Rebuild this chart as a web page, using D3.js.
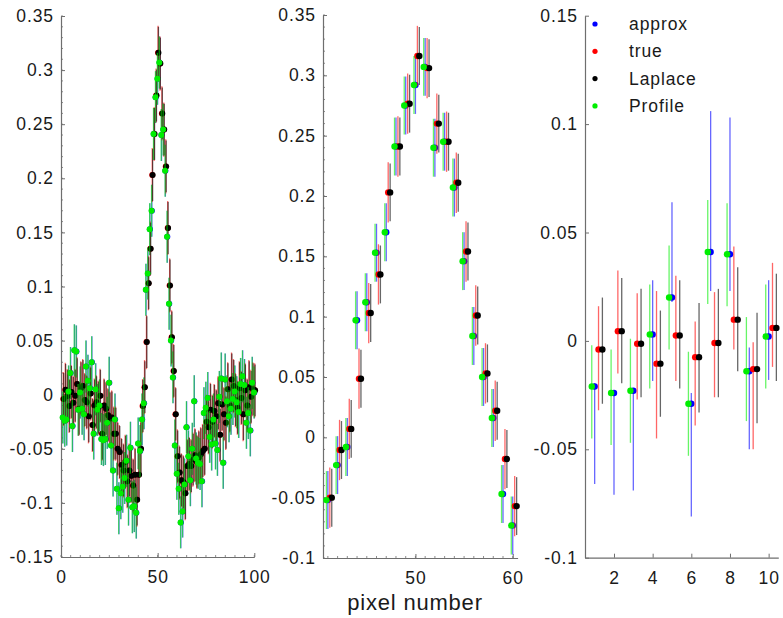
<!DOCTYPE html>
<html><head><meta charset="utf-8">
<script src="https://cdn.jsdelivr.net/npm/d3@7/dist/d3.min.js"></script>
<style>
body{margin:0;background:#fff}
svg text{font-family:"Liberation Sans",Arial,Helvetica,sans-serif;fill:#1a1a1a}
</style></head>
<body><svg id="chart" width="783" height="618"></svg>
<script>
// ---------- DATA ----------
const pixels = d3.range(1, 101);
// point estimate shared by "approx" and "Profile"
const profileValues = [
 -0.021,-0.024,-0.023,0.003,0.020,-0.029,0.041,0.040,-0.014,0.002,
 -0.013,-0.018,0.026,0.013,0.006,0.030,-0.036,0.005,-0.014,-0.010,
 -0.041,-0.042,-0.041,-0.026,0.011,-0.047,-0.070,-0.023,-0.087,-0.105,
 -0.091,-0.085,-0.077,-0.061,-0.097,-0.049,-0.104,-0.103,-0.109,-0.045,
 -0.052,-0.023,-0.008,0.097,0.112,0.153,0.170,0.241,0.275,0.292,
 0.307,0.240,0.245,0.207,0.146,0.084,0.050,0.016,-0.047,-0.073,
 -0.087,-0.118,-0.108,-0.083,-0.030,-0.057,-0.079,-0.050,-0.006,-0.059,
 -0.063,-0.064,-0.080,-0.017,-0.012,-0.003,-0.039,-0.046,-0.023,-0.045,
 -0.051,-0.002,0.015,-0.063,0.014,-0.006,-0.020,-0.013,-0.004,0.003,
 -0.007,-0.016,0.010,0.017,0.009,-0.026,-0.017,-0.033,0.011,0.002
];
const approxValues = profileValues;
// point estimate shared by "true" and "Laplace"
const trueValues = [
 -0.004,0.0045,-0.0013,-0.0105,0.0025,-0.0075,-0.001,0.0098,-0.013,0.006,
 0.008,-0.005,-0.007,-0.020,0.001,-0.028,-0.010,-0.007,-0.012,-0.001,
 -0.036,-0.010,-0.013,-0.019,-0.022,-0.021,-0.036,-0.036,-0.050,-0.053,
 -0.065,-0.070,-0.062,-0.080,-0.070,-0.075,-0.084,-0.074,-0.097,-0.074,
 -0.050,-0.0105,0.007,0.0486,0.103,0.135,0.203,0.241,0.2765,0.316,
 0.306,0.260,0.245,0.211,0.154,0.101,0.053,0.022,-0.018,-0.057,
 -0.072,-0.079,-0.081,-0.091,-0.066,-0.064,-0.066,-0.060,-0.056,-0.062,
 -0.058,-0.055,-0.052,-0.050,-0.025,-0.030,-0.014,-0.025,-0.015,-0.020,
 -0.008,-0.037,-0.009,-0.018,-0.026,0.005,-0.010,0.014,0.008,-0.005,
 -0.012,0.006,-0.003,-0.018,0.004,-0.010,0.007,-0.002,0.005,0.004
];
const laplaceValues = trueValues;

// interval ends (pixels 1..10)
const approxLow   = [-0.066,-0.071,-0.069,-0.0185,0.018,-0.081,0.023,0.023,-0.050,-0.018];
const approxHigh  = [-0.0195,-0.023,-0.023,0.028,0.064,-0.024,0.106,0.103,-0.003,0.028];
const trueLow     = [-0.032,-0.015,-0.027,-0.045,-0.0185,-0.039,-0.026,-0.004,-0.050,-0.012];
const trueHigh    = [0.016,0.0325,0.022,0.023,0.030,0.009,0.0225,0.0436,-0.0006,0.036];
const laplaceLow  = [-0.029,-0.0195,-0.026,-0.035,-0.022,-0.033,-0.026,-0.014,-0.038,-0.0185];
const laplaceHigh = [0.020,0.029,0.024,0.014,0.028,0.0175,0.024,0.034,0.013,0.031];
const profileLow  = [-0.045,-0.048,-0.047,-0.022,-0.004,-0.053,0.017,0.016,-0.037,-0.022];
const profileHigh = [-0.002,-0.004,0.001,0.026,0.044,-0.005,0.065,0.0635,0.011,0.026];
// typical half width of the intervals in the other two panels
const halfWidth = {approx:0.024, true:0.025, laplace:0.024, profile:0.024};

const seriesNames = ["approx","true","Laplace","Profile"];
const seriesColors = ["#0000ff","#ff0000","#000000","#00ee00"];

const panel1YTicks = [-0.15,-0.1,-0.05,0,0.05,0.1,0.15,0.2,0.25,0.3,0.35];
const panel2YTicks = [-0.1,-0.05,0,0.05,0.1,0.15,0.2,0.25,0.3,0.35];
const panel3YTicks = [-0.1,-0.05,0,0.05,0.1,0.15];
const panel1XTicks = [0,50,100];
const panel2XTicks = [50,60];
const panel3XTicks = [2,4,6,8,10];
const xLabel = "pixel number";

// ---------- SERIES TABLE ----------
const series = [
  {name:"approx", color:seriesColors[0], vals:approxValues, lo:approxLow, hi:approxHigh, hw:halfWidth.approx, off:0.0},
  {name:"true", color:seriesColors[1], vals:trueValues, lo:trueLow, hi:trueHigh, hw:halfWidth.true, off:0.2},
  {name:"Laplace", color:seriesColors[2], vals:laplaceValues, lo:laplaceLow, hi:laplaceHigh, hw:halfWidth.laplace, off:0.4},
  {name:"Profile", color:seriesColors[3], vals:profileValues, lo:profileLow, hi:profileHigh, hw:halfWidth.profile, off:-0.15}
];
function interval(s, i, detailed) {
  if (detailed && i < s.lo.length) return [s.lo[i], s.hi[i]];
  return [s.vals[i] - s.hw, s.vals[i] + s.hw];
}

const panels = [
  {xd:[0,100], yd:[-0.15,0.35], l:61, r:254.3, t:16, b:557, from:1, to:100, yt:panel1YTicks, xt:panel1XTicks, yMinor:0.01, xMinor:5, detailed:false},
  {xd:[40.5,60.5], yd:[-0.1,0.35], l:323, r:517.6, t:15, b:558, from:41, to:60, yt:panel2YTicks, xt:panel2XTicks, yMinor:0.01, xMinor:1, detailed:false},
  {xd:[0.5,10.5], yd:[-0.1,0.15], l:585, r:778.3, t:15.7, b:557.7, from:1, to:10, yt:panel3YTicks, xt:panel3XTicks, yMinor:null, xMinor:null, detailed:true}
];

const svg = d3.select("#chart");
const fmt = d => String(+d.toFixed(2));
const axisColor = "#6e6e6e";

panels.forEach((p, pi) => {
  const x = d3.scaleLinear().domain(p.xd).range([p.l, p.r]);
  const y = d3.scaleLinear().domain(p.yd).range([p.b, p.t]);
  const g = svg.append("g");

  const ya = g.append("g").attr("transform", `translate(${p.l},0)`)
    .call(d3.axisLeft(y).tickValues(p.yt).tickFormat(fmt).tickSizeInner(-4).tickSizeOuter(0).tickPadding(7));
  const xa = g.append("g").attr("transform", `translate(0,${p.b})`)
    .call(d3.axisBottom(x).tickValues(p.xt).tickFormat(d3.format("d")).tickSizeInner(-4).tickSizeOuter(0).tickPadding(14));
  [ya, xa].forEach(a => {
    a.select(".domain").attr("stroke", axisColor).attr("stroke-width", 1.2);
    a.selectAll(".tick line").attr("stroke", axisColor);
    a.selectAll("text").attr("font-size", 17.5).attr("letter-spacing", "0.9px").attr("fill", "#1a1a1a")
      .attr("font-family", '"Liberation Sans",Arial,sans-serif');
  });
  if (p.yMinor) {
    const mv = d3.range(p.yd[0], p.yd[1] + 1e-9, p.yMinor);
    g.append("g").selectAll("line").data(mv).join("line")
      .attr("x1", p.l).attr("x2", p.l + 2).attr("y1", d => y(d)).attr("y2", d => y(d))
      .attr("stroke", axisColor).attr("stroke-width", 0.8);
  }
  if (p.xMinor) {
    const start = Math.ceil(p.xd[0] / p.xMinor) * p.xMinor;
    const mv = d3.range(start, p.xd[1] + 1e-9, p.xMinor);
    g.append("g").selectAll("line").data(mv).join("line")
      .attr("y1", p.b).attr("y2", p.b - 2).attr("x1", d => x(d)).attr("x2", d => x(d))
      .attr("stroke", axisColor).attr("stroke-width", 0.8);
  }

  const idx = d3.range(p.from - 1, p.to);
  const r = pi === 0 ? 3 : 3.2;
  series.forEach(s => {
    const sg = g.append("g");
    sg.selectAll("line").data(idx).join("line")
      .attr("x1", i => x(pixels[i] + s.off)).attr("x2", i => x(pixels[i] + s.off))
      .attr("y1", i => y(interval(s, i, p.detailed)[0])).attr("y2", i => y(interval(s, i, p.detailed)[1]))
      .attr("stroke", s.color).attr("stroke-width", 1.3).attr("stroke-opacity", 0.6);
    sg.selectAll("circle").data(idx).join("circle")
      .attr("cx", i => x(pixels[i] + s.off)).attr("cy", i => y(s.vals[i]))
      .attr("r", r).attr("fill", s.color);
  });

  if (pi === 2) {
    const lg = g.append("g");
    seriesNames.forEach((n, k) => {
      const yy = 24 + k * 27.3;
      lg.append("circle").attr("cx", 595).attr("cy", yy).attr("r", 2.6).attr("fill", seriesColors[k]);
      lg.append("text").attr("x", 629).attr("y", yy).attr("dy", "0.35em")
        .attr("font-size", 17.5).attr("letter-spacing", "0.9px").text(n);
    });
  }
});

svg.append("text").attr("x", 415).attr("y", 610).attr("text-anchor", "middle")
  .attr("font-size", 22).attr("letter-spacing", "0.8px").text(xLabel);
</script>
</body></html>
